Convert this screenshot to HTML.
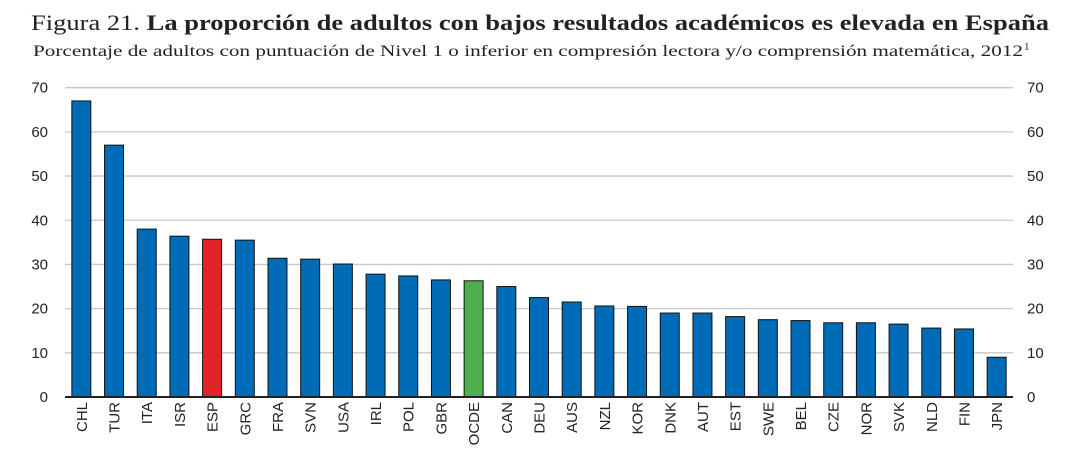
<!DOCTYPE html>
<html><head><meta charset="utf-8"><style>
body{margin:0;background:#fff;width:1066px;height:451px;overflow:hidden}
.t{font-family:"Liberation Serif",serif}
</style></head><body>
<svg width="1066" height="451">
<text class="t" x="31" y="30" font-size="22" fill="#222" textLength="1018" lengthAdjust="spacingAndGlyphs">Figura 21.  <tspan font-weight="bold">La proporción de adultos con bajos resultados académicos es elevada en España</tspan></text>
<text class="t" x="33" y="56" font-size="16" fill="#222" textLength="990" lengthAdjust="spacingAndGlyphs">Porcentaje de adultos con puntuación de Nivel 1 o inferior en compresión lectora y/o comprensión matemática, 2012</text>
<text class="t" x="1024" y="50" font-size="11" fill="#222">1</text>
<g id="grid"></g><g id="bars"></g><g id="ax"></g>
</svg>
<script>
const categories=["CHL","TUR","ITA","ISR","ESP","GRC","FRA","SVN","USA","IRL","POL","GBR","OCDE","CAN","DEU","AUS","NZL","KOR","DNK","AUT","EST","SWE","BEL","CZE","NOR","SVK","NLD","FIN","JPN"];
const values=[67,57,38,36.4,35.7,35.5,31.4,31.2,30.1,27.8,27.4,26.5,26.3,25,22.5,21.5,20.6,20.5,19,19,18.2,17.5,17.3,16.8,16.8,16.5,15.6,15.4,9];
const ticks=[0,10,20,30,40,50,60,70];
const NS="http://www.w3.org/2000/svg";
const L=65,R=1013,Y0=397,Y70=87.7;
const y=v=>Y0-(v/70)*(Y0-Y70);
const bw=(R-L)/categories.length;
const x=i=>L+bw*(i+0.5);
function mk(t,a,p){const e=document.createElementNS(NS,t);for(const k in a)e.setAttribute(k,a[k]);p.appendChild(e);return e;}
const g=document.getElementById('grid'),b=document.getElementById('bars'),ax=document.getElementById('ax');
ticks.forEach(t=>{
 if(t>0){const ln=mk('line',{x1:L,x2:R,y1:y(t),y2:y(t),stroke:'#c8c8c8','stroke-width':1.3},g);
 
 }
 const a=mk('text',{x:48,y:y(t)+5,'text-anchor':'end','font-size':15,'font-family':'Liberation Sans, sans-serif',fill:'#222'},ax);a.textContent=t;
 
 
 const c=mk('text',{x:1027,y:y(t)+5,'font-size':15,'font-family':'Liberation Sans, sans-serif',fill:'#222'},ax);c.textContent=t;
 
 
});
categories.forEach((c,i)=>{
 const col=c==="ESP"?"#e3222b":c==="OCDE"?"#4cae4c":"#006bb6";
 const r=mk('rect',{x:x(i)-9.5,y:y(values[i]),width:19,height:Y0-y(values[i]),fill:col,stroke:'#111','stroke-width':1},b);
 
 
 const t=mk('text',{transform:`translate(${x(i)+5.5},402) rotate(-90)`,'text-anchor':'end','font-size':15,'font-family':'Liberation Sans, sans-serif',fill:'#222'},ax);t.textContent=c;
 
 
});
const base=mk('line',{x1:L,x2:R,y1:Y0,y2:Y0,stroke:'#222','stroke-width':2},ax);


</script>
</body></html>
